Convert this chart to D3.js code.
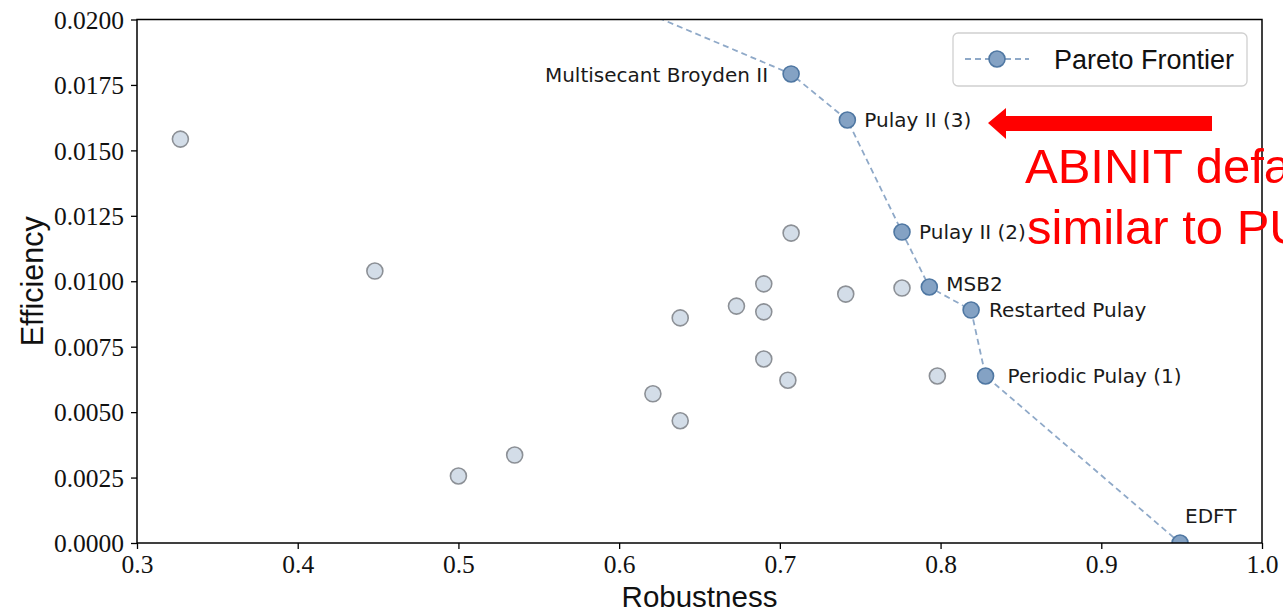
<!DOCTYPE html>
<html>
<head>
<meta charset="utf-8">
<script src="https://cdn.jsdelivr.net/npm/d3@7"></script>
<style>
  body { margin: 0; background: #fff; }
  svg { display: block; }
</style>
</head>
<body>
<div id="chart"></div>
<script>
// frontier methods (first one sits above the visible range, line is clipped)
let frontierNames = ["", "Multisecant Broyden II", "Pulay II (3)", "Pulay II (2)", "MSB2", "Restarted Pulay", "Periodic Pulay (1)", "EDFT"];
let frontierRobust = [0.550, 0.707, 0.742, 0.776, 0.793, 0.819, 0.828, 0.949];
let frontierEff = [0.0220, 0.01792, 0.01616, 0.01188, 0.00978, 0.00890, 0.00638, 0.0];

// other (dominated) methods
let otherRobust = [0.327, 0.448, 0.707, 0.690, 0.673, 0.690, 0.638, 0.741, 0.776, 0.690, 0.705, 0.798, 0.621, 0.638, 0.535, 0.500];
let otherEff = [0.01543, 0.01039, 0.01184, 0.00990, 0.00905, 0.00883, 0.00860, 0.00951, 0.00974, 0.00703, 0.00622, 0.00638, 0.00570, 0.00467, 0.00336, 0.00256];

let xTicks = [0.3, 0.4, 0.5, 0.6, 0.7, 0.8, 0.9, 1.0];
let yTicks = [0, 0.0025, 0.005, 0.0075, 0.01, 0.0125, 0.015, 0.0175, 0.02];

// label placement (dx, dy, anchor) for each frontier label
let labelOffsets = [null, [-23, 8, "end"], [17, 7, "start"], [17, 7, "start"], [17, 4, "start"], [18, 7, "start"], [22, 7, "start"], [5, -20, "start"]];

let svgWidth = 1283;
let svgHeight = 614;
let margin = { top: 19.5, right: 21, bottom: 71, left: 137 };
let chartWidth = svgWidth - margin.left - margin.right;
let chartHeight = svgHeight - margin.top - margin.bottom;

let svg = d3.select("#chart")
    .append("svg")
    .attr("width", svgWidth)
    .attr("height", svgHeight);

let chartGroup = svg.append("g")
    .attr("transform", `translate(${margin.left},${margin.top})`);

let xScale = d3.scaleLinear().domain([0.3, 1.0]).range([0, chartWidth]);
let yScale = d3.scaleLinear().domain([0, 0.02]).range([chartHeight, 0]);

chartGroup.append("clipPath")
    .attr("id", "plotClip")
    .append("rect")
    .attr("width", chartWidth)
    .attr("height", chartHeight);

let plot = chartGroup.append("g").attr("clip-path", "url(#plotClip)");

let others = otherRobust.map((r, i) => ({ r: r, e: otherEff[i] }));
let frontier = frontierRobust.map((r, i) => ({ r: r, e: frontierEff[i], name: frontierNames[i], i: i }));

plot.selectAll("circle.other")
    .data(others)
    .enter()
    .append("circle")
    .attr("class", "other")
    .attr("r", 8)
    .attr("cx", d => xScale(d.r))
    .attr("cy", d => yScale(d.e))
    .attr("fill", "#d3dde8")
    .attr("stroke", "#8c9096")
    .attr("stroke-width", 1.6);

let line = d3.line().x(d => xScale(d.r)).y(d => yScale(d.e));

plot.append("path")
    .datum(frontier)
    .attr("d", line)
    .attr("fill", "none")
    .attr("stroke", "#8fa9c8")
    .attr("stroke-width", 1.8)
    .attr("stroke-dasharray", "6,4");

plot.selectAll("circle.front")
    .data(frontier)
    .enter()
    .append("circle")
    .attr("class", "front")
    .attr("r", 8)
    .attr("cx", d => xScale(d.r))
    .attr("cy", d => yScale(d.e))
    .attr("fill", "#84a2c4")
    .attr("stroke", "#4f77a2")
    .attr("stroke-width", 1.6);

chartGroup.selectAll("text.lab")
    .data(frontier.filter(d => d.name !== ""))
    .enter()
    .append("text")
    .attr("class", "lab")
    .attr("x", d => xScale(d.r) + labelOffsets[d.i][0])
    .attr("y", d => yScale(d.e) + labelOffsets[d.i][1])
    .attr("text-anchor", d => labelOffsets[d.i][2])
    .style("font-family", "DejaVu Sans, sans-serif")
    .style("font-size", "20px")
    .style("fill", "#1a1a1a")
    .text(d => d.name);

// axes
let xAxis = d3.axisBottom(xScale).tickValues(xTicks).tickFormat(d3.format(".1f")).tickSize(6).tickSizeOuter(0);
let yAxis = d3.axisLeft(yScale).tickValues(yTicks).tickFormat(d3.format(".4f")).tickSize(6).tickSizeOuter(0);

let gx = chartGroup.append("g")
    .attr("transform", `translate(0, ${chartHeight})`)
    .call(xAxis);
let gy = chartGroup.append("g").call(yAxis);

[gx, gy].forEach(g => {
    g.select(".domain").remove();
    g.selectAll("line").attr("stroke", "#000").attr("stroke-width", 1.3);
    g.selectAll("text")
        .style("font-family", "Liberation Serif, serif")
        .style("font-size", "25.5px")
        .attr("fill", "#111");
});
gx.selectAll("text").attr("dy", "0").attr("y", 30);
gy.selectAll("text").attr("x", -13).attr("dy", "0.34em");

// red annotation
let annot = svg.append("g");
annot.append("path")
    .attr("d", "M988,123 L1006,108 L1006,116 L1212,116 L1212,131 L1006,131 L1006,139 Z")
    .attr("fill", "#ff0000");
annot.append("text")
    .attr("x", 1025)
    .attr("y", 183)
    .style("font-family", "Liberation Sans, Arial, sans-serif")
    .style("font-size", "49px")
    .attr("fill", "#ff0000")
    .text("ABINIT default");
annot.append("text")
    .attr("x", 1027)
    .attr("y", 244)
    .style("font-family", "Liberation Sans, Arial, sans-serif")
    .style("font-size", "49px")
    .attr("fill", "#ff0000")
    .text("similar to PULAY");

// frame
chartGroup.append("rect")
    .attr("width", chartWidth)
    .attr("height", chartHeight)
    .attr("fill", "none")
    .attr("stroke", "#000")
    .attr("stroke-width", 1.5);

// axis labels
svg.append("text")
    .attr("x", margin.left + chartWidth / 2)
    .attr("y", 607)
    .attr("text-anchor", "middle")
    .style("font-family", "Liberation Sans, sans-serif")
    .style("font-size", "29.5px")
    .attr("fill", "#111")
    .text("Robustness");

svg.append("text")
    .attr("transform", `translate(43, ${margin.top + chartHeight / 2}) rotate(-90)`)
    .attr("text-anchor", "middle")
    .style("font-family", "Liberation Sans, sans-serif")
    .style("font-size", "30.5px")
    .attr("fill", "#111")
    .text("Efficiency");

// legend
let legend = svg.append("g").attr("transform", "translate(953, 33)");
legend.append("rect")
    .attr("width", 294)
    .attr("height", 53)
    .attr("rx", 5)
    .attr("fill", "#fff")
    .attr("fill-opacity", 0.8)
    .attr("stroke", "#d0d0d0")
    .attr("stroke-width", 1.3);
legend.append("line")
    .attr("x1", 12).attr("x2", 76)
    .attr("y1", 26).attr("y2", 26)
    .attr("stroke", "#8fa9c8")
    .attr("stroke-width", 1.8)
    .attr("stroke-dasharray", "6,4");
legend.append("circle")
    .attr("cx", 44).attr("cy", 26).attr("r", 8)
    .attr("fill", "#84a2c4")
    .attr("stroke", "#4f77a2")
    .attr("stroke-width", 1.6);
legend.append("text")
    .attr("x", 101)
    .attr("y", 36)
    .style("font-family", "Liberation Sans, sans-serif")
    .style("font-size", "27px")
    .attr("fill", "#111")
    .text("Pareto Frontier");
</script>
</body>
</html>
